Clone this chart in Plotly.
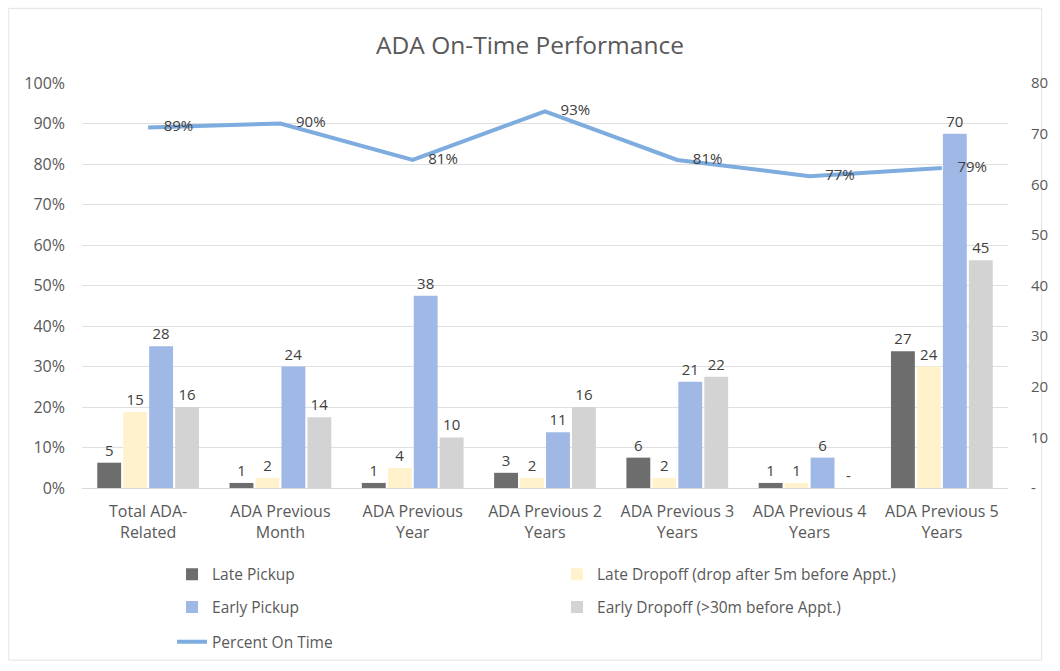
import plotly.graph_objects as go

categories = [
    "Total ADA-<br>Related",
    "ADA Previous<br>Month",
    "ADA Previous<br>Year",
    "ADA Previous 2<br>Years",
    "ADA Previous 3<br>Years",
    "ADA Previous 4<br>Years",
    "ADA Previous 5<br>Years",
]
late_pickup = [5, 1, 1, 3, 6, 1, 27]
late_dropoff = [15, 2, 4, 2, 2, 1, 24]
early_pickup = [28, 24, 38, 11, 21, 6, 70]
early_dropoff = [16, 14, 10, 16, 22, 0, 45]
percent_on_time = [0.89, 0.90, 0.81, 0.93, 0.81, 0.77, 0.79]

left_ticks = [i / 10 for i in range(11)]
right_ticks = [0, 10, 20, 30, 40, 50, 60, 70, 80]

FONT = "'Open Sans', Lato, sans-serif"
TXT = "#595959"
LBL = "#404040"


def lab(vals):
    return [str(v) if v else "-" for v in vals]


series = [
    ("Late Pickup", late_pickup, "#6d6d6d", "legend"),
    ("Late Dropoff (drop after 5m before Appt.)", late_dropoff, "#fff2cc", "legend"),
    ("Early Pickup", early_pickup, "#9fb8e6", "legend2"),
    ("Early Dropoff (>30m before Appt.)", early_dropoff, "#d3d3d3", "legend2"),
]

fig = go.Figure()
for name, vals, color, lg in series:
    fig.add_trace(go.Bar(
        x=categories, y=vals, name=name, marker=dict(color=color, line=dict(width=0)),
        text=lab(vals), textposition="outside", constraintext="none", cliponaxis=False,
        outsidetextfont=dict(family=FONT, size=15, color=LBL),
        yaxis="y", legend=lg,
    ))

fig.add_trace(go.Scatter(
    x=categories, y=percent_on_time, name="Percent On Time", mode="lines+text",
    line=dict(color="#7eacde", width=4),
    text=["\u00a0\u00a0\u00a0\u00a0" + f"{round(v*100)}%" for v in percent_on_time],
    textposition="middle right",
    textfont=dict(family=FONT, size=15, color=LBL),
    yaxis="y2", legend="legend3", cliponaxis=False,
))

# chart border (paper coords relative to plot area)
fig.add_shape(type="rect", xref="paper", yref="paper",
              x0=(8 - 82) / 936, x1=(1052 - 82) / 936,
              y0=(490 - 663) / 407, y1=(490 - 8) / 407,
              line=dict(color="#e3e3e3", width=1), layer="below")

leg_common = dict(orientation="h", xanchor="left", yanchor="middle",
                  font=dict(family=FONT, size=15.5, color=TXT),
                  bgcolor="rgba(0,0,0,0)", entrywidth=340, itemwidth=30)

fig.update_layout(
    width=1060, height=671,
    margin=dict(l=82, r=42, t=83, b=181),
    paper_bgcolor="white", plot_bgcolor="white",
    font=dict(family=FONT, color=TXT),
    title=dict(text="ADA On-Time Performance", x=0.5, xanchor="center", y=1 - 45 / 671,
               yanchor="middle", font=dict(family=FONT, size=24.5, color=TXT)),
    barmode="group", bargap=0.215, bargroupgap=0.08,
    xaxis=dict(tickfont=dict(family=FONT, size=16, color=TXT), showline=True,
               linecolor="#d9d9d9", ticks="", showgrid=False, ticklabelstandoff=9),
    yaxis=dict(side="right", range=[0, 80], tickvals=right_ticks,
               ticktext=["-" if t == 0 else str(t) for t in right_ticks],
               tickfont=dict(family=FONT, size=15, color=TXT), showgrid=False,
               zeroline=False, ticklabelstandoff=22),
    yaxis2=dict(side="left", overlaying="y", range=[0, 1], tickvals=left_ticks,
                ticktext=[f"{int(round(t*100))}%" for t in left_ticks],
                tickfont=dict(family=FONT, size=16, color=TXT), showgrid=True,
                gridcolor="#e0e0e0", zeroline=False, ticklabelstandoff=16),
    legend=dict(x=(173 - 82) / 936, y=(490 - 577) / 407, **leg_common),
    legend2=dict(x=(173 - 82) / 936, y=(490 - 610) / 407, **leg_common),
    legend3=dict(x=(173 - 82) / 936, y=(490 - 645) / 407, **leg_common),
    showlegend=True,
)

fig.write_html("out.html", config={"displayModeBar": False},
               post_script="document.body.style.margin='0';")
